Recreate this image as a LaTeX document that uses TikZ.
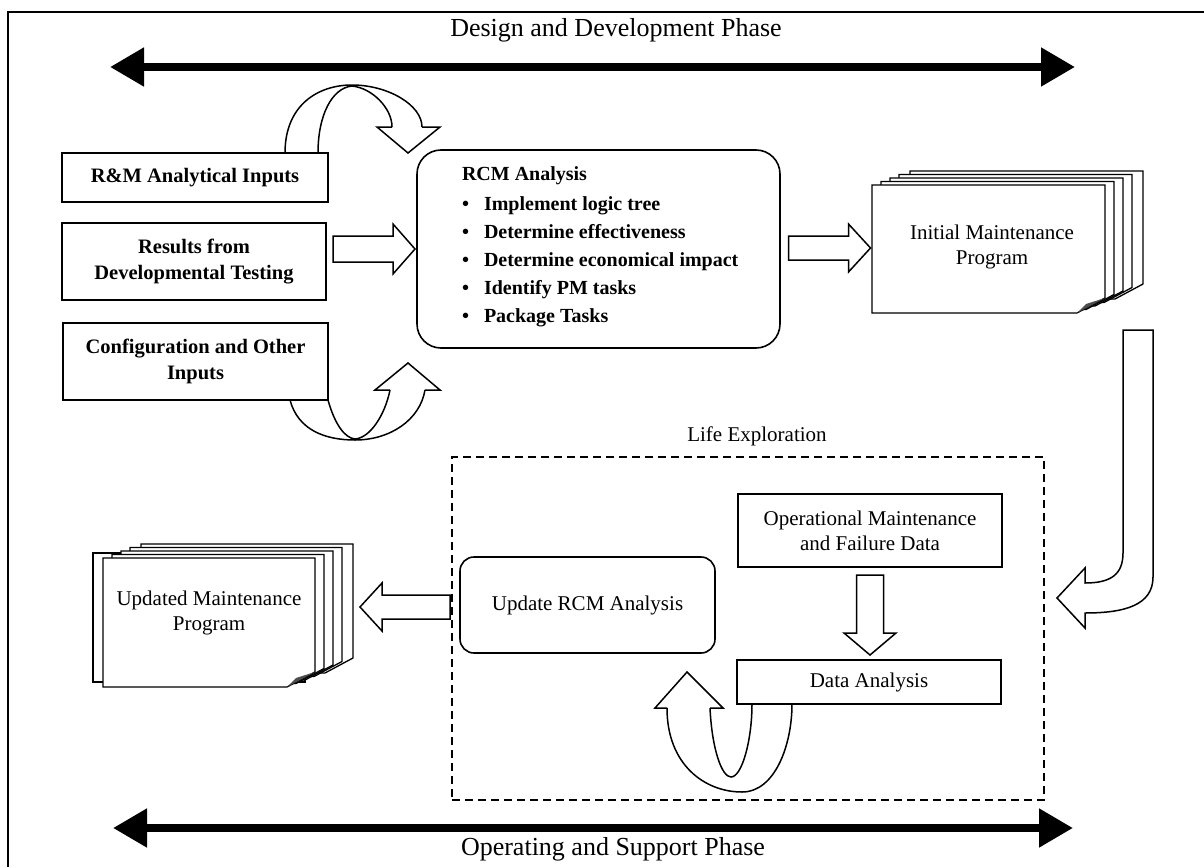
\documentclass[tikz,border=0pt]{standalone}
\usepackage{fontspec}
\setmainfont{Liberation Serif}
\usetikzlibrary{arrows.meta,calc}
\newcommand\docpages[4]{%
  \foreach \dx/\dy in {38/-14,27/-10.5,18/-7,9/-3.5}{%
    \begin{scope}[shift={(\dx,\dy)}]
      \filldraw[page] (#1,#2) -- (#3,#2) -- (#3,#4-15) -- (#3-28,#4) -- (#1,#4) -- cycle;
    \end{scope}}
  \filldraw[page] (#1,#2) -- (#3,#2) -- (#3,#4-15) -- (#3-28,#4) -- (#1,#4) -- cycle;
  \fill[black!70] (#3-28,#4) -- (#3,#4-15) -- (#3-19,#4-9) -- cycle;
}
\begin{document}
\begin{tikzpicture}[x=1pt,y=-1pt,
  every node/.style={inner sep=0pt, outer sep=0pt},
  bx/.style={draw, line width=1.6pt, align=center, font=\fontsize{20.5}{26}\selectfont\bfseries},
  rx/.style={draw, line width=1.6pt, align=center, font=\fontsize{21}{25}\selectfont},
  txt/.style={align=center, font=\fontsize{21}{25}\selectfont},
  ptxt/.style={font=\fontsize{26}{30}\selectfont},
  phase/.style={line width=8pt, arrows={Triangle[length=34pt,width=37pt]-Triangle[length=34pt,width=37pt]}},
  blk/.style={draw, line width=1.5pt, fill=white, line join=miter},
  rib/.style={line width=1.5pt},
  page/.style={draw, line width=1.3pt, fill=white, line join=miter},
]
\useasboundingbox (0,0) rectangle (1204,867);
% frame
\draw[line width=1.5pt] (8,867) -- (8,12) -- (1204,12);

% phases
\node[ptxt] (t1) at (616,30) {Design and Development Phase};
\coordinate (tl) at (110,67);
\coordinate (tr) at (1075,67);
\draw[phase] (tl) -- (tr);

\coordinate (bl) at (113,828);
\coordinate (br) at (1073,828);
\draw[phase] (bl) -- (br);
\node[ptxt] (t2) at (613,849) {Operating and Support Phase};

% input boxes
\node[bx, minimum width=266, minimum height=49] (rm) at (195,177.5) {R\&M Analytical Inputs};
\node[bx, minimum width=264, minimum height=77] (res) at (194,261.5) {Results from\\Developmental Testing};
\node[bx, minimum width=265, minimum height=77] (cfg) at (195.5,361.5) {Configuration and Other\\Inputs};

% RCM analysis
\node[draw, line width=1.6pt, rounded corners=24pt, minimum width=363, minimum height=198] (rcm) at (598.5,249) {};
\node[anchor=north west, font=\fontsize{20}{28}\selectfont\bfseries] (rcmtxt) at (462,161) {%
  \begin{tabular}{@{}l@{\hspace{15pt}}l@{}}
  \multicolumn{2}{@{}l}{RCM Analysis}\\[2pt]
  \textbullet & Implement logic tree\\
  \textbullet & Determine effectiveness\\
  \textbullet & Determine economical impact\\
  \textbullet & Identify PM tasks\\
  \textbullet & Package Tasks
  \end{tabular}};

% curved ribbon arrows into RCM
\draw[rib] (285,153) .. controls (285,105) and (318,85) .. (352,85) .. controls (388,85) and (422,105) .. (422,127);
\draw[rib] (318,153) .. controls (318,115) and (332,88) .. (352,86) .. controls (372,88) and (392,108) .. (392,127);
\draw[rib, line join=miter] (392,127) -- (377,127) -- (408,153) -- (440,127) -- (422,127);

\draw[rib] (290,400) .. controls (298,430) and (325,440) .. (355,440) .. controls (390,440) and (420,420) .. (425,390);
\draw[rib] (328,400) .. controls (335,425) and (345,438) .. (355,439) .. controls (370,438) and (385,415) .. (390,390);
\draw[rib, line join=miter] (390,390) -- (375,390) -- (408,363) -- (440,390) -- (425,390);

\draw[blk] ($(rcm.west)+(-2,0)$) -- ++(-22,-25) -- ++(0,12) -- ++(-60,0) -- ++(0,26) -- ++(60,0) -- ++(0,12) -- cycle;

% initial maintenance program
\docpages{872}{185}{1105}{313}
\node[txt, minimum width=233, minimum height=128] (init) at (992,247) {Initial Maintenance\\Program};
\draw[blk] (870.5,248) -- ++(-22,-24) -- ++(0,12) -- ++(-60,0) -- ++(0,24) -- ++(60,0) -- ++(0,12) -- cycle;

% bend arrow
\draw[blk] (1123,330) -- (1123,553) .. controls (1123,575) and (1110,583) .. (1085,583) -- (1085,568) -- (1057,598) -- (1085,628) -- (1085,613) .. controls (1125,613) and (1153,605) .. (1153,577) -- (1153,330) -- cycle;

% life exploration
\node[txt] (life) at (757,436) {Life Exploration};
\node[draw, line width=1.8pt, dash pattern=on 8pt off 5pt, minimum width=592, minimum height=343] (lifebox) at (748,628.5) {};
\node[rx, minimum width=264, minimum height=73] (ops) at (870,530.5) {Operational Maintenance\\and Failure Data};
\node[rx, minimum width=264, minimum height=44] (da) at (869,682) {Data Analysis};
\node[rx, rounded corners=14pt, minimum width=255, minimum height=96] (upd) at (587.5,605) {Update RCM Analysis};

\draw[blk] ($(da.north)+(1,-5)$) -- ++(-26,-22) -- ++(12.5,0) -- ++(0,-58) -- ++(27,0) -- ++(0,58) -- ++(12.5,0) -- cycle;

\draw[rib] (667,708) .. controls (667,765) and (705,792) .. (742,792) .. controls (775,792) and (792,745) .. (792,704);
\draw[rib] (710,708) .. controls (712,750) and (722,777) .. (731,777) .. controls (742,777) and (752,740) .. (752,704);
\draw[rib, line join=miter] (667,708) -- (655,708) -- (687,672) -- (723,708) -- (710,708);

% updated maintenance program
\begin{scope}[shift={(-10,-5)}]
  \filldraw[page] (103,558) rectangle (315,687);
\end{scope}
\docpages{103}{558}{315}{687}
\node[txt, minimum width=212, minimum height=129] (updoc) at (209,613) {Updated Maintenance\\Program};
\draw[blk] ($(upd.west)+(-100,2)$) -- ++(22,-24) -- ++(0,12) -- ++(68,0) -- ++(0,24) -- ++(-68,0) -- ++(0,12) -- cycle;
\end{tikzpicture}
\end{document}
